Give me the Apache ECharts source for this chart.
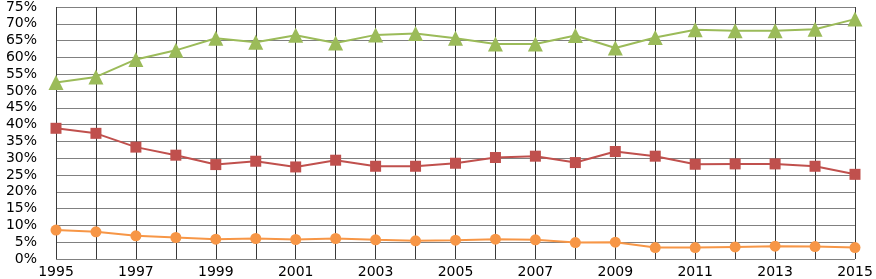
<!DOCTYPE html>
<html><head><meta charset="utf-8">
<script src="https://cdn.jsdelivr.net/npm/echarts@6/dist/echarts.min.js"></script>
<style>html,body{margin:0;padding:0;background:#fff}#c{width:876px;height:279px}</style>
</head><body><div id="c"></div>
<script>
const years = ['1995','1996','1997','1998','1999','2000','2001','2002','2003','2004','2005','2006','2007','2008','2009','2010','2011','2012','2013','2014','2015'];
const greenSeries = [52.5,54.2,59.4,62.1,65.7,64.5,66.6,64.3,66.7,67.1,65.7,64.0,64.0,66.5,62.8,65.9,68.2,67.9,67.9,68.4,71.4];
const redSeries = [38.9,37.4,33.3,30.9,28.1,29.1,27.4,29.4,27.6,27.6,28.5,30.2,30.6,28.7,32.0,30.6,28.2,28.3,28.3,27.6,25.2];
const orangeSeries = [8.6,8.1,6.9,6.4,5.9,6.1,5.8,6.1,5.7,5.4,5.6,5.9,5.7,4.9,5.0,3.4,3.4,3.6,3.8,3.7,3.4];

const chart = echarts.init(document.getElementById('c'));
const font = 'DejaVu Sans';
chart.setOption({
  animation: false,
  grid: {left: 56, right: 21, top: 5, bottom: 18},
  xAxis: {
    type: 'category', data: years, boundaryGap: false,
    axisLine: {show: false}, axisTick: {show: false},
    axisLabel: {interval: 1, color: '#000', fontFamily: font, fontSize: 14, margin: 6},
    splitLine: {show: true, interval: 0, lineStyle: {color: '#3a3a3a', width: 1}}
  },
  yAxis: {
    type: 'value', min: 0, max: 75, interval: 5,
    axisLine: {show: false}, axisTick: {show: false},
    axisLabel: {formatter: '{value}%', color: '#000', fontFamily: font, fontSize: 14, margin: 19},
    splitLine: {lineStyle: {color: '#808080', width: 1}}
  },
  series: [
    {type: 'line', data: greenSeries, symbol: 'triangle', symbolSize: 15,
     lineStyle: {color: '#9bbb59', width: 2}, itemStyle: {color: '#9bbb59'}},
    {type: 'line', data: redSeries, symbol: 'rect', symbolSize: 11,
     lineStyle: {color: '#c0504d', width: 2}, itemStyle: {color: '#c0504d'}},
    {type: 'line', data: orangeSeries, symbol: 'circle', symbolSize: 11,
     lineStyle: {color: '#f79646', width: 2}, itemStyle: {color: '#f79646'}}
  ]
});
</script></body></html>
